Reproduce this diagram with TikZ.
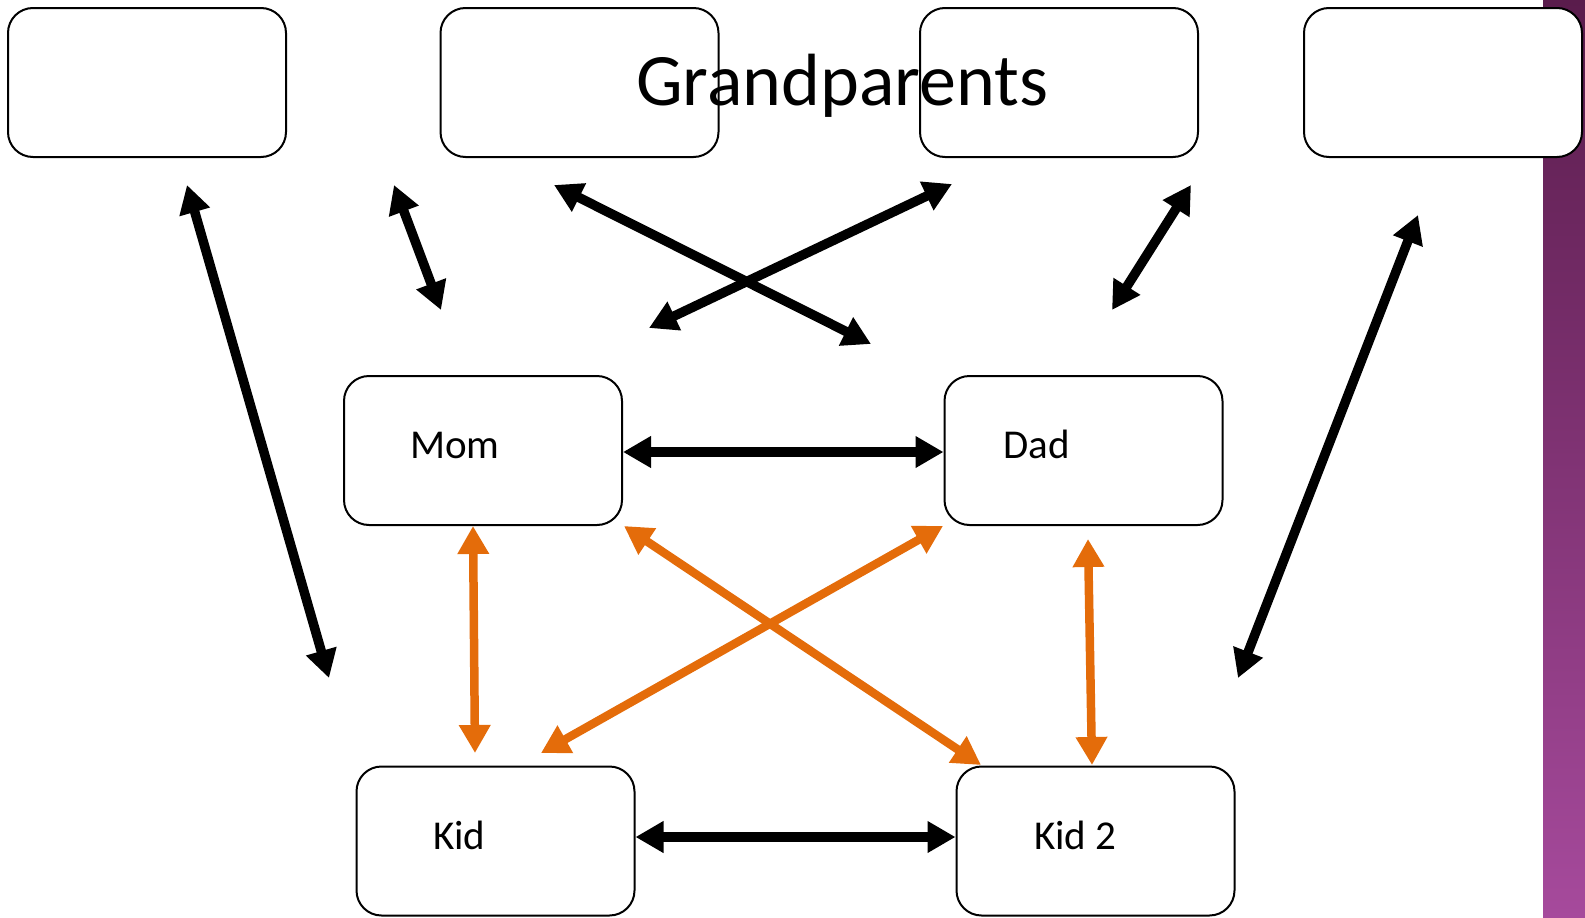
\documentclass[tikz,border=0pt]{standalone}
\usepackage{fontspec}
\setmainfont{Carlito}
\usetikzlibrary{arrows.meta}
\definecolor{arrorange}{HTML}{E46C0A}
\definecolor{purptop}{HTML}{5A1C4C}
\definecolor{purpbot}{HTML}{A64A9C}
\tikzset{
  box/.style={draw, line width=2pt, fill=white, rounded corners=25pt, minimum width=278pt, minimum height=149pt, inner sep=0pt},
  lbl/.style={inner sep=0pt, anchor=base west, font=\fontsize{41}{49}\selectfont},
  blk/.style={line width=9.5pt, {Triangle[length=28pt,width=30pt]}-{Triangle[length=28pt,width=30pt]}},
  org/.style={arrorange, line width=8.5pt, {Triangle[length=28pt,width=30pt]}-{Triangle[length=28pt,width=30pt]}},
}
\begin{document}
\begin{tikzpicture}[x=1pt,y=-1pt]
\useasboundingbox (0,0) rectangle (1585,918);
\shade[top color=purptop, bottom color=purpbot] (1543,0) rectangle (1585,918);
% boxes
\node[box] (gp1) at (147,82.5) {};
\node[box] (gp2) at (579.5,82.5) {};
\node[box] (gp3) at (1059,82.5) {};
\node[box] (gp4) at (1443,82.5) {};
\node[box] (mom) at (483,450.5) {};
\node[box] (dad) at (1083.5,450.5) {};
\node[box] (kid) at (495.5,841) {};
\node[box] (kid2) at (1095.5,841) {};
% labels
\node[inner sep=0pt, anchor=base west, font=\fontsize{74}{89}\selectfont] (gptext) at (636,105) {Grandparents};
\node[lbl] (momtext) at (410,458) {Mom};
\node[lbl] (dadtext) at (1003,458) {Dad};
\node[lbl] (kidtext) at (433,849) {Kid};
\node[lbl] (kid2text) at (1034,849) {Kid 2};
% arrow end points
\coordinate (a1s) at (187,185); \coordinate (a1e) at (329,678);
\coordinate (a2s) at (394,185); \coordinate (a2e) at (441,310);
\coordinate (a3s) at (554,185); \coordinate (a3e) at (871,344);
\coordinate (a4s) at (952,184); \coordinate (a4e) at (649,328);
\coordinate (a5s) at (1191,185); \coordinate (a5e) at (1112,310);
\coordinate (a6s) at (1418,215); \coordinate (a6e) at (1238,678);
\coordinate (o1s) at (473,526); \coordinate (o1e) at (475,753);
\coordinate (o2s) at (624,526); \coordinate (o2e) at (981,765);
\coordinate (o3s) at (943,526); \coordinate (o3e) at (541,753);
\coordinate (o4s) at (1088,539); \coordinate (o4e) at (1092,765);
% black arrows
\draw[blk] (a1s) -- (a1e);
\draw[blk] (a2s) -- (a2e);
\draw[blk] (a3s) -- (a3e);
\draw[blk] (a4s) -- (a4e);
\draw[blk] (a5s) -- (a5e);
\draw[blk] (a6s) -- (a6e);
\draw[blk] ([yshift=-1.5pt]mom.east) -- ([yshift=-1.5pt]dad.west);
\draw[blk] ([yshift=4pt]kid.east) -- ([yshift=4pt]kid2.west);
% orange arrows
\draw[org] (o1s) -- (o1e);
\draw[org] (o2s) -- (o2e);
\draw[org] (o3s) -- (o3e);
\draw[org] (o4s) -- (o4e);
\end{tikzpicture}
\end{document}
